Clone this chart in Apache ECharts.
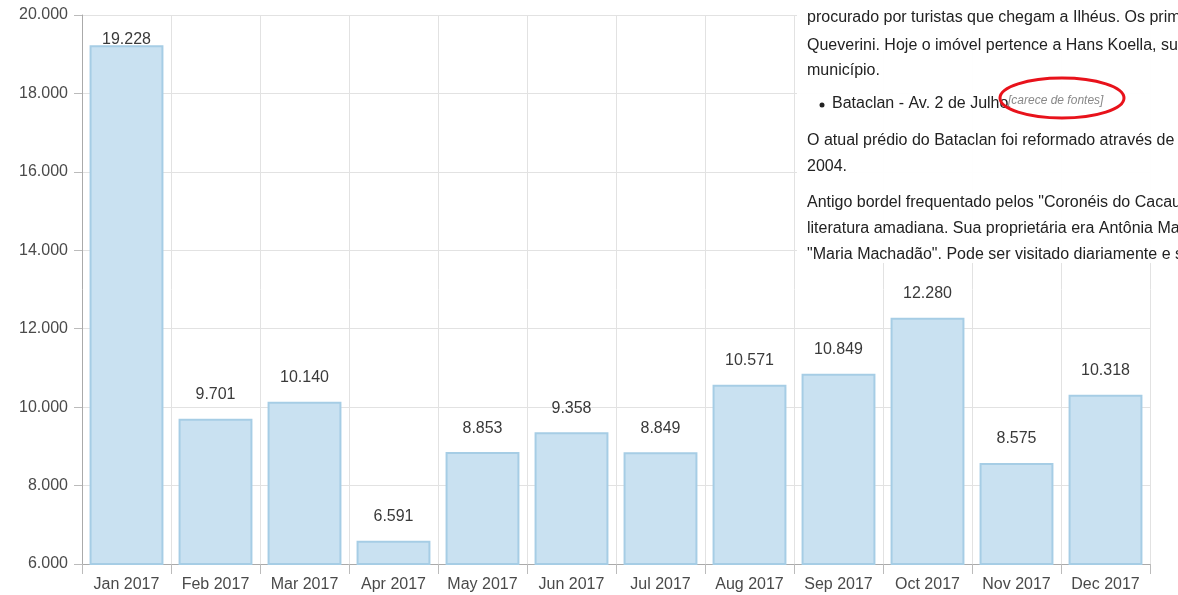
<!DOCTYPE html>
<html><head><meta charset="utf-8">
<script src="https://cdn.jsdelivr.net/npm/echarts@6/dist/echarts.min.js"></script>
<style>html,body{margin:0;padding:0;background:#fff}#c{width:1178px;height:595px}</style>
</head><body><div id="c"></div>
<script>
const categories = ['Jan 2017','Feb 2017','Mar 2017','Apr 2017','May 2017','Jun 2017','Jul 2017','Aug 2017','Sep 2017','Oct 2017','Nov 2017','Dec 2017'];
const values = [19228, 9701, 10140, 6591, 8853, 9358, 8849, 10571, 10849, 12280, 8575, 10318];
const yTicks = { min: 6000, max: 20000, interval: 2000 };
const overlayLines = [
  'procurado por turistas que chegam a Ilhéus. Os primeiros proprietários',
  'Queverini. Hoje o imóvel pertence a Hans Koella, suíço',
  'município.',
  'Bataclan - Av. 2 de Julho',
  'O atual prédio do Bataclan foi reformado através de um',
  '2004.',
  'Antigo bordel frequentado pelos "Coronéis do Cacau"',
  'literatura amadiana. Sua proprietária era Antônia Machado',
  '"Maria Machadão". Pode ser visitado diariamente e sem'
];
const fmt = v => String(v).replace(/\B(?=(\d{3})+(?!\d))/g, '.');

const chart = echarts.init(document.getElementById('c'));
const font = '"Liberation Sans", Arial, sans-serif';
const data = values.map((v, i) => i === 0 ? { value: v, label: { distance: -2 } } : v);
const ys = [18, 46, 71, 104, 141, 167, 203, 229, 255];
const xs = [807, 807, 807, 832, 807, 807, 807, 807, 807];
const g = [
  { type: 'rect', shape: { x: 797, y: 0, width: 400, height: 263 }, style: { fill: 'rgba(255,255,255,0.96)' }, z: 100 }
];
overlayLines.forEach((t, i) => {
  g.push({ type: 'text', x: xs[i], y: ys[i], z: 101, style: { text: t, font: '16px ' + font, fill: '#222', verticalAlign: 'middle' } });
});
g.push({ type: 'circle', shape: { cx: 822, cy: 105, r: 2.5 }, style: { fill: '#222' }, z: 101 });
g.push({ type: 'text', x: 1008, y: 101, z: 101, style: { text: '[carece de fontes]', font: 'italic 12px ' + font, fill: '#888', verticalAlign: 'middle' } });
g.push({ type: 'ellipse', shape: { cx: 1062, cy: 98, rx: 62, ry: 20 }, style: { fill: 'none', stroke: '#e8121b', lineWidth: 3 }, z: 102 });

chart.setOption({
  animation: false,
  grid: { left: 82, right: 28, top: 15, bottom: 31, containLabel: false },
  xAxis: {
    type: 'category', data: categories,
    axisLine: { lineStyle: { color: '#aaa' } },
    axisTick: { show: true, interval: 0, length: 10, lineStyle: { color: '#bbb' } },
    splitLine: { show: true, interval: 0, lineStyle: { color: '#e2e2e2' } },
    axisLabel: { interval: 0, color: '#4a4a4a', fontSize: 16, fontFamily: font, margin: 13 }
  },
  yAxis: {
    type: 'value', min: yTicks.min, max: yTicks.max, interval: yTicks.interval,
    axisLine: { show: true, lineStyle: { color: '#aaa' } },
    axisTick: { show: true, length: 8, lineStyle: { color: '#bbb' } },
    splitLine: { lineStyle: { color: '#e2e2e2' } },
    axisLabel: { color: '#4a4a4a', fontSize: 16, fontFamily: font, margin: 14, formatter: fmt }
  },
  series: [{
    type: 'bar', data: data, barCategoryGap: '17%',
    itemStyle: { color: '#c9e1f1', borderColor: '#a6cde5', borderWidth: 2 },
    label: { show: true, position: 'top', distance: 16, color: '#3a3a3a', fontSize: 16, fontFamily: font, formatter: p => fmt(p.value) }
  }],
  graphic: g
});
</script></body></html>
